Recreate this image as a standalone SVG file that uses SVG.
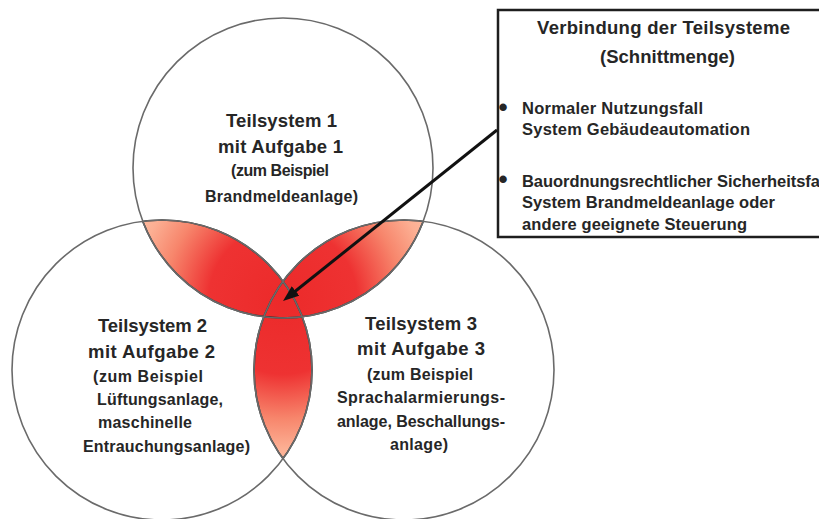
<svg xmlns="http://www.w3.org/2000/svg" width="819" height="519" viewBox="0 0 819 519">
<defs>
<style>
.ring{fill:none;stroke:#6a6a6a;stroke-width:1.6}
.edge{fill:none;stroke:#333;stroke-width:1.7}
.lens{fill:url(#red)}
text{font-family:"Liberation Sans",Arial,sans-serif;font-weight:bold;fill:#262626}
.h{font-size:18.5px}
.s{font-size:16px}
.b{font-size:16.5px}
.t{font-size:18.5px}
.dot{font-size:26px}
.frame{fill:#fff;stroke:#1e1e1e;stroke-width:2.5}
.arrow{stroke:#111;stroke-width:3;fill:none}
</style>
<radialGradient id="red" gradientUnits="userSpaceOnUse" cx="283" cy="300" r="165">
<stop offset="0" stop-color="#ec2a2a"/>
<stop offset="0.45" stop-color="#ee3232"/>
<stop offset="0.72" stop-color="#f7866c"/>
<stop offset="0.9" stop-color="#fcaf93"/>
<stop offset="1" stop-color="#fdbb9f"/>
</radialGradient>
<clipPath id="k1"><circle cx="283" cy="168" r="150"/></clipPath>
<clipPath id="k2"><circle cx="162" cy="370" r="150"/></clipPath>
<clipPath id="k23"><circle cx="162" cy="370" r="150"/><circle cx="404" cy="370" r="150"/></clipPath>
<clipPath id="k13"><circle cx="283" cy="168" r="150"/><circle cx="404" cy="370" r="150"/></clipPath>
<clipPath id="k12"><circle cx="283" cy="168" r="150"/><circle cx="162" cy="370" r="150"/></clipPath>
<marker id="ah" markerUnits="userSpaceOnUse" markerWidth="18" markerHeight="14" refX="4" refY="6" orient="auto">
<path d="M0,0 L16,6 L0,12 z" fill="#111"/>
</marker>
</defs>
<rect width="819" height="519" fill="#fff"/>
<g id="intersections">
<circle cx="162" cy="370" r="150" class="lens" clip-path="url(#k1)"/>
<circle cx="404" cy="370" r="150" class="lens" clip-path="url(#k1)"/>
<circle cx="404" cy="370" r="150" class="lens" clip-path="url(#k2)"/>
<circle cx="283" cy="168" r="150" class="edge" clip-path="url(#k23)"/>
<circle cx="162" cy="370" r="150" class="edge" clip-path="url(#k13)"/>
<circle cx="404" cy="370" r="150" class="edge" clip-path="url(#k12)"/>
</g>
<g id="teilsystem1">
<circle cx="283" cy="168" r="150" class="ring"/>
<text class="h" x="226" y="127" textLength="111">Teilsystem 1</text>
<text class="h" x="218" y="153" textLength="125">mit Aufgabe 1</text>
<text class="s" x="231" y="176" textLength="98">(zum Beispiel</text>
<text class="s" x="205" y="202" textLength="153">Brandmeldeanlage)</text>
</g>
<g id="teilsystem2">
<circle cx="162" cy="370" r="150" class="ring"/>
<text class="h" x="98" y="332" textLength="109">Teilsystem 2</text>
<text class="h" x="88" y="358" textLength="127">mit Aufgabe 2</text>
<text class="s" x="93" y="382" textLength="110">(zum Beispiel</text>
<text class="s" x="97" y="405" textLength="126">Lüftungsanlage,</text>
<text class="s" x="98" y="428" textLength="94">maschinelle</text>
<text class="s" x="83" y="452" textLength="167">Entrauchungsanlage)</text>
</g>
<g id="teilsystem3">
<circle cx="404" cy="370" r="150" class="ring"/>
<text class="h" x="365" y="330" textLength="112">Teilsystem 3</text>
<text class="h" x="357" y="355" textLength="128">mit Aufgabe 3</text>
<text class="s" x="367" y="380" textLength="106">(zum Beispiel</text>
<text class="s" x="337" y="403" textLength="168">Sprachalarmierungs-</text>
<text class="s" x="337" y="427" textLength="168">anlage, Beschallungs-</text>
<text class="s" x="390" y="450" textLength="58">anlage)</text>
</g>
<g id="verbindung">
<rect class="frame" x="498" y="10" width="335" height="227"/>
<text class="t" x="537" y="34" textLength="253">Verbindung der Teilsysteme</text>
<text class="t" x="600" y="63" textLength="135">(Schnittmenge)</text>
<text class="dot" x="498.5" y="116">•</text>
<text class="b" x="522" y="114" textLength="181">Normaler Nutzungsfall</text>
<text class="b" x="522" y="135" textLength="228">System Gebäudeautomation</text>
<text class="dot" x="498.5" y="188">•</text>
<text class="b" x="522" y="187" textLength="307">Bauordnungsrechtlicher Sicherheitsfall</text>
<text class="b" x="522" y="208" textLength="253">System Brandmeldeanlage oder</text>
<text class="b" x="522" y="230" textLength="225">andere geeignete Steuerung</text>
</g>
<g id="connectors">
<line class="arrow" x1="497" y1="130" x2="292.4" y2="293.5" marker-end="url(#ah)"/>
</g>
</svg>
